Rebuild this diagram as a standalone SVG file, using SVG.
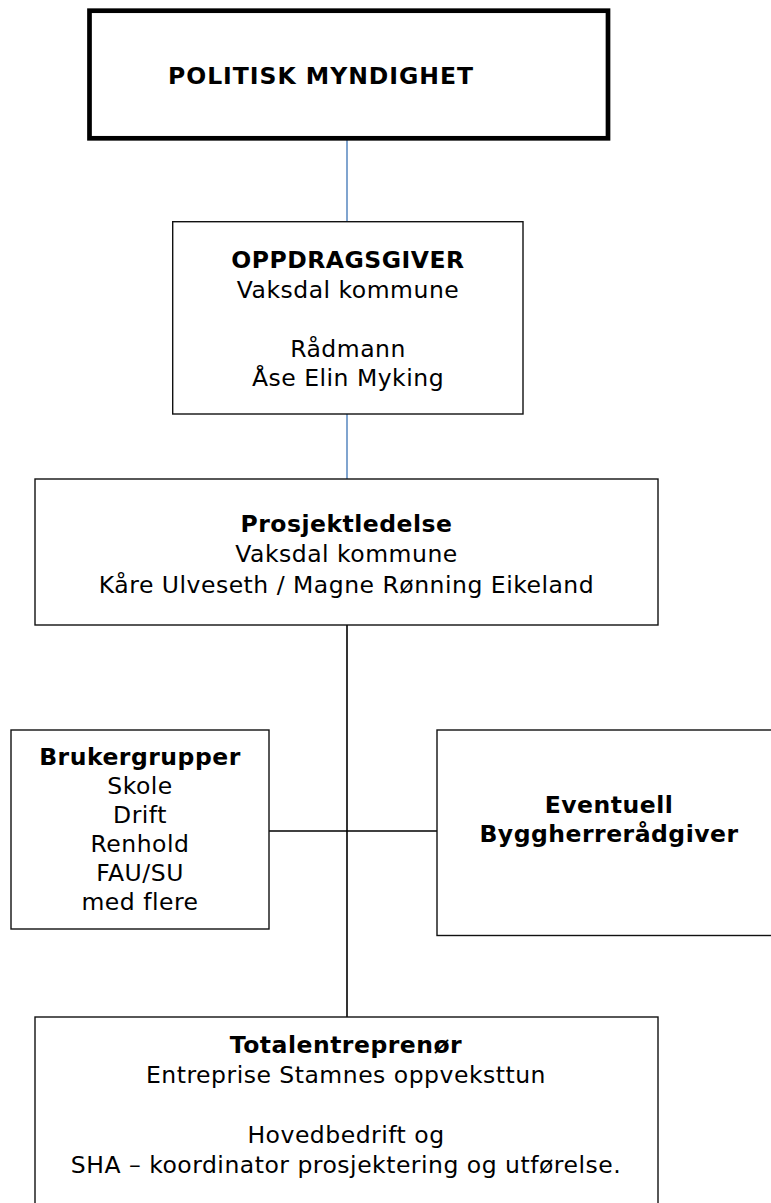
<svg xmlns="http://www.w3.org/2000/svg" width="771" height="1203" viewBox="0 0 771 1203">
<style>
.box{fill:#fff;stroke:#111;stroke-width:1.4}
.t{font-family:"DejaVu Sans","Verdana",sans-serif;font-size:23.5px;letter-spacing:0.5px;fill:#000;text-anchor:middle}
.b{font-weight:bold}
.blue{stroke:#4A7EBB;stroke-width:1.4;fill:none}
.blk{stroke:#000;stroke-width:1.6;fill:none}
</style>
<rect width="771" height="1203" fill="#fff"/>
<g id="connectors">
<line class="blue" x1="347" y1="138" x2="347" y2="222"/>
<line class="blue" x1="347" y1="414" x2="347" y2="479"/>
<line class="blk" x1="347" y1="625" x2="347" y2="1017"/>
<line class="blk" x1="269" y1="831" x2="437" y2="831"/>
</g>
<g id="politisk">
<rect x="89.5" y="10.7" width="518.5" height="127.6" fill="#fff" stroke="#000" stroke-width="4.7"/>
<text class="t b" x="168" y="84" style="text-anchor:start;letter-spacing:0" textLength="305" lengthAdjust="spacing">POLITISK MYNDIGHET</text>
</g>
<g id="oppdragsgiver">
<rect class="box" x="172.7" y="221.7" width="350.3" height="192.3"/>
<text class="t b" x="348" y="268">OPPDRAGSGIVER</text>
<text class="t" x="348" y="298">Vaksdal kommune</text>
<text class="t" x="348" y="357">Rådmann</text>
<text class="t" x="348" y="386">Åse Elin Myking</text>
</g>
<g id="prosjektledelse">
<rect class="box" x="35" y="479" width="623" height="146"/>
<text class="t b" x="346.5" y="532">Prosjektledelse</text>
<text class="t" x="346.5" y="562">Vaksdal kommune</text>
<text class="t" x="346.5" y="593">Kåre Ulveseth / Magne Rønning Eikeland</text>
</g>
<g id="brukergrupper">
<rect class="box" x="11" y="730" width="258" height="199"/>
<text class="t b" x="140" y="765">Brukergrupper</text>
<text class="t" x="140" y="794">Skole</text>
<text class="t" x="140" y="823">Drift</text>
<text class="t" x="140" y="852">Renhold</text>
<text class="t" x="140" y="881">FAU/SU</text>
<text class="t" x="140" y="910">med flere</text>
</g>
<g id="byggherreradgiver">
<rect class="box" x="437" y="730" width="340" height="205.5"/>
<text class="t b" x="609" y="813">Eventuell</text>
<text class="t b" x="609" y="842">Byggherrerådgiver</text>
</g>
<g id="totalentreprenor">
<rect class="box" x="35" y="1017" width="623" height="200"/>
<text class="t b" x="346" y="1053">Totalentreprenør</text>
<text class="t" x="346" y="1083">Entreprise Stamnes oppveksttun</text>
<text class="t" x="346" y="1143">Hovedbedrift og</text>
<text class="t" x="346" y="1173">SHA – koordinator prosjektering og utførelse.</text>
</g>
</svg>
